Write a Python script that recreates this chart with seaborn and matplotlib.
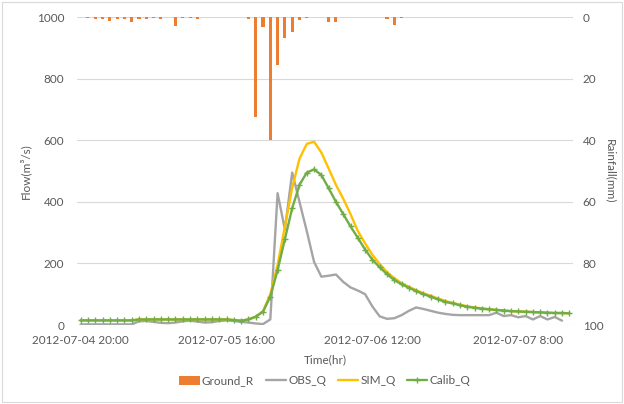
import numpy as np
import pandas as pd
import matplotlib
matplotlib.use("Agg")
import matplotlib.pyplot as plt
import seaborn as sns
from matplotlib.lines import Line2D
from matplotlib.patches import Patch, Rectangle

# ---------------- data ----------------
tick_labels = ["2012-07-04 20:00", "2012-07-05 16:00", "2012-07-06 12:00", "2012-07-07 8:00"]
tick_index = [0, 20, 40, 60]

rain = [0, 0.3, 0.5, 0.5, 1.2, 0.5, 0.8, 1.5, 0.5, 0.5,
        0.3, 0.5, 0, 2.9, 0.3, 0.3, 0.5, 0, 0, 0,
        0, 0, 0, 0.8, 32.4, 3.1, 40.0, 15.6, 6.9, 5.0,
        1.0, 0.3, 0, 0.1, 1.5, 1.5, 0, 0, 0, 0,
        0, 0, 0.5, 2.6, 0.3, 0, 0, 0, 0, 0,
        0, 0, 0, 0, 0, 0, 0, 0, 0, 0,
        0, 0, 0, 0, 0, 0, 0, 0]

obs_q = [2, 2, 2, 2, 2, 2, 2, 2, 12, 13,
         10, 7, 6, 8, 12, 14, 11, 8, 9, 13,
         15, 13, 10, 8, 5, 3, 18, 428, 310, 495,
         400, 305, 205, 157, 160, 164, 140, 122, 112, 100,
         60, 28, 20, 22, 32, 46, 57, 52, 46, 40,
         36, 33, 32, 32, 32, 32, 32, 40, 29, 32,
         25, 29, 18, 29, 18, 26, 14, np.nan]

sim_q = [15, 15, 15, 15, 15, 15, 15, 15, 18, 18,
         18, 18, 18, 18, 18, 18, 18, 18, 18, 18,
         18, 16, 14, 18, 27, 45, 100, 195, 320, 445,
         540, 588, 595, 560, 508, 455, 410, 360, 305, 265,
         228, 198, 172, 152, 136, 124, 113, 103, 95, 86,
         78, 72, 66, 61, 57, 54, 51, 49, 47, 45,
         44, 43, 42, 41, 40, 39, 39, 38]

calib_q = [15, 15, 15, 15, 15, 15, 15, 15, 18, 18,
           18, 18, 18, 18, 18, 18, 18, 18, 18, 18,
           18, 16, 14, 18, 27, 43, 92, 178, 279, 379,
           455, 495, 505, 487, 444, 400, 360, 320, 283, 245,
           212, 187, 165, 146, 132, 121, 110, 100, 92, 83,
           75, 70, 64, 59, 56, 53, 51, 49, 47, 45,
           44, 43, 42, 41, 40, 39, 39, 38]

n = len(calib_q)
df = pd.DataFrame({"t": np.arange(n), "rain": rain, "OBS_Q": obs_q,
                   "SIM_Q": sim_q, "Calib_Q": calib_q})

# ---------------- style ----------------
c_rain = "#ED7D31"
c_obs = "#A5A5A5"
c_sim = "#FFC000"
c_cal = "#70AD47"
txt = "#595959"
fs = 8.5

sns.set_style("white")
plt.rcParams["font.family"] = ["Lato", "DejaVu Sans"]
plt.rcParams["font.size"] = fs

fig = plt.figure(figsize=(6.24, 4.04), dpi=100)
ax = fig.add_axes([77 / 624, 1 - 325 / 404, 496 / 624, 308 / 404])

sns.lineplot(data=df, x="t", y="OBS_Q", ax=ax, color=c_obs, lw=1.7)
sns.lineplot(data=df, x="t", y="SIM_Q", ax=ax, color=c_sim, lw=1.7)
sns.lineplot(data=df, x="t", y="Calib_Q", ax=ax, color=c_cal, lw=1.7,
             marker="+", markersize=4, markeredgewidth=1.0, markeredgecolor=c_cal)

ax.set_xlim(-0.5, n - 0.5)
ax.set_ylim(0, 1000)
ax.set_yticks(range(0, 1001, 200))
ax.grid(axis="y", color="#D9D9D9", lw=0.8)
ax.grid(axis="x", visible=False)
for s in ax.spines.values():
    s.set_visible(False)
ax.tick_params(axis="both", length=0, colors=txt, labelsize=fs)
ax.tick_params(axis="y", pad=9)
ax.tick_params(axis="x", pad=7)
ax.set_xlabel("Time(hr)", color=txt, fontsize=fs, labelpad=6)
ax.set_ylabel("Flow(m³/s)", color=txt, fontsize=fs, labelpad=4)

ax2 = ax.twinx()
sns.barplot(data=df, x="t", y="rain", ax=ax2, native_scale=True,
            color=c_rain, width=0.42, saturation=1, linewidth=0)
ax2.set_xlim(-0.5, n - 0.5)
ax2.set_ylim(100, 0)
ax2.set_yticks(range(0, 101, 20))
for s in ax2.spines.values():
    s.set_visible(False)
ax2.tick_params(axis="y", length=0, colors=txt, labelsize=fs, pad=7)
ax2.set_ylabel("Rainfall(mm)", color=txt, fontsize=fs, rotation=270, labelpad=9)
ax2.set_xlabel("")
ax.set_xticks(tick_index)
ax.set_xticklabels(tick_labels)

handles = [Patch(facecolor=c_rain, edgecolor="none"),
           Line2D([], [], color=c_obs, lw=1.7),
           Line2D([], [], color=c_sim, lw=1.7),
           Line2D([], [], color=c_cal, lw=1.7, marker="+", markersize=4)]
fig.legend(handles, ["Ground_R", "OBS_Q", "SIM_Q", "Calib_Q"],
           loc="center", bbox_to_anchor=(325 / 624, 1 - 381 / 404), ncol=4,
           frameon=False, fontsize=fs, labelcolor=txt, handlelength=1.7,
           handletextpad=0.2, columnspacing=1.0)

fig.patches.append(Rectangle((0.004, 0.004), 0.992, 0.992, transform=fig.transFigure,
                             fill=False, edgecolor="#D9D9D9", lw=0.8))

fig.savefig("out.png", dpi=100)
